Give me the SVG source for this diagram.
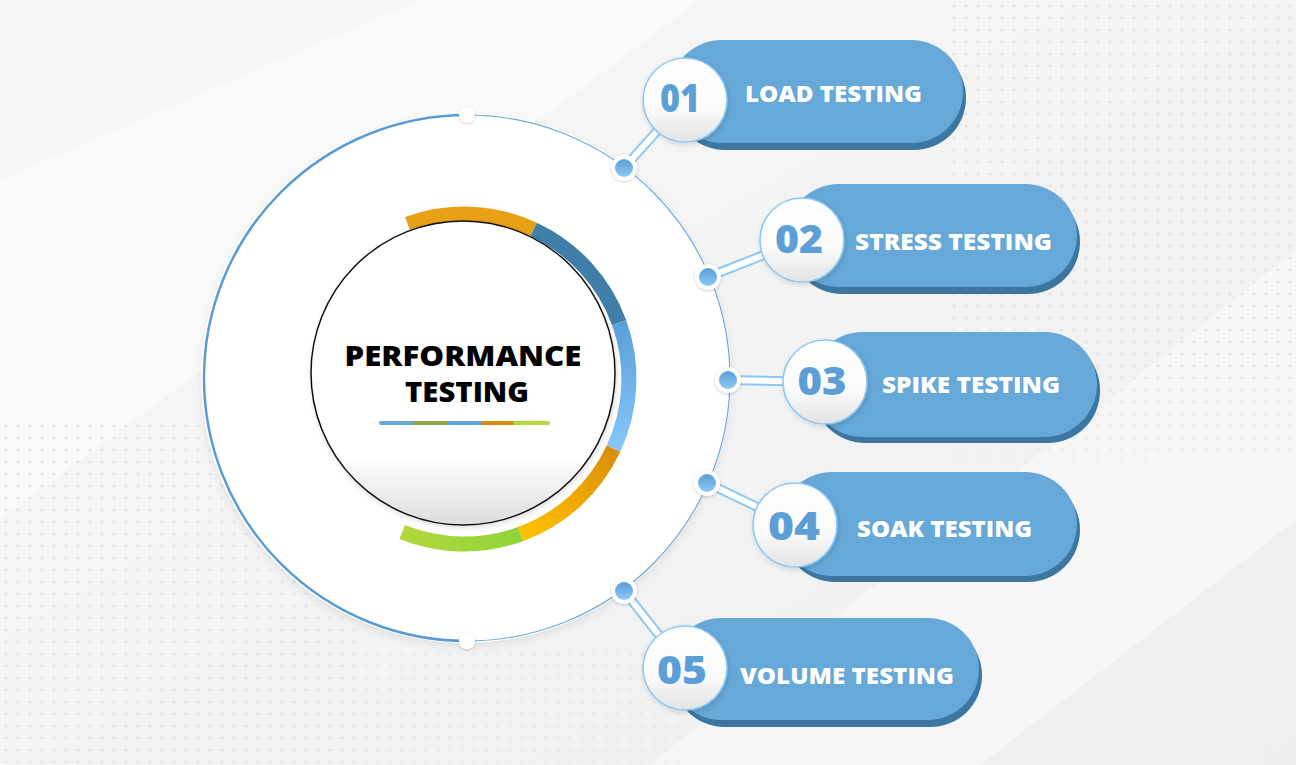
<svg xmlns="http://www.w3.org/2000/svg" width="1296" height="765" viewBox="0 0 1296 765">
<defs>
<style>
.pill{fill:#66A8D7}
.pillsh{fill:#3B77A1}
.num{font-family:"Open Sans","Noto Sans",sans-serif;font-weight:800;font-size:38px;fill:#5B9FD6;text-anchor:middle}
.lbl{font-family:"Open Sans","Noto Sans",sans-serif;font-weight:800;font-size:23px;fill:#FFFFFF}
.title{font-family:"Open Sans","Noto Sans",sans-serif;font-weight:800;font-size:28px;fill:#000000;text-anchor:middle}
.ncirc{fill:url(#gNum);stroke:#8CC8F5;stroke-width:1.6}
.cout{stroke:#8CC8F5;stroke-width:10;stroke-linecap:round;fill:none}
.cin{stroke:#FFFFFF;stroke-width:6;stroke-linecap:round;fill:none}
.halo{fill:#FFFFFF}
.dot{fill:url(#gDot)}
.ring{fill:none;stroke-width:15}
</style>
<linearGradient id="gNum" x1="0" y1="0" x2="0" y2="1">
<stop offset="0" stop-color="#FFFFFF"/><stop offset="0.6" stop-color="#FAFAFA"/><stop offset="1" stop-color="#E2E2E2"/>
</linearGradient>
<linearGradient id="gDot" x1="0" y1="0" x2="0" y2="1">
<stop offset="0" stop-color="#5A9DD6"/><stop offset="1" stop-color="#8CC9F7"/>
</linearGradient>
<linearGradient id="gInner" x1="0" y1="0" x2="0" y2="1">
<stop offset="0" stop-color="#FFFFFF"/><stop offset="0.78" stop-color="#FFFFFF"/><stop offset="1" stop-color="#DCDCDC"/>
</linearGradient>
<linearGradient id="gLB" gradientUnits="userSpaceOnUse" x1="0" y1="322" x2="0" y2="449">
<stop offset="0" stop-color="#5B9FD8"/><stop offset="1" stop-color="#86C7F9"/>
</linearGradient>
<linearGradient id="gOr" gradientUnits="userSpaceOnUse" x1="615" y1="450" x2="520" y2="535">
<stop offset="0" stop-color="#D98E0C"/><stop offset="0.5" stop-color="#F0A800"/><stop offset="1" stop-color="#FFC200"/>
</linearGradient>
<linearGradient id="gGr" gradientUnits="userSpaceOnUse" x1="402" y1="0" x2="522" y2="0">
<stop offset="0" stop-color="#B2D83C"/><stop offset="1" stop-color="#8FD43A"/>
</linearGradient>
<linearGradient id="gBg1" x1="0" y1="0" x2="1" y2="1">
<stop offset="0" stop-color="#F7F7F7"/><stop offset="1" stop-color="#EFEFEF"/>
</linearGradient>
<linearGradient id="gFadeR" x1="0" y1="0" x2="0" y2="1">
<stop offset="0" stop-color="#FFFFFF" stop-opacity="1"/><stop offset="0.7" stop-color="#FFFFFF" stop-opacity="1"/><stop offset="1" stop-color="#FFFFFF" stop-opacity="0"/>
</linearGradient>
<mask id="mFadeR"><rect x="950" y="0" width="346" height="520" fill="url(#gFadeR)"/></mask>
<pattern id="pDots" width="12" height="12" patternUnits="userSpaceOnUse">
<circle cx="6" cy="6" r="1.3" fill="#E0E0E0"/>
</pattern>
<filter id="fSh" x="-20%" y="-20%" width="140%" height="140%">
<feDropShadow dx="0" dy="3" stdDeviation="5" flood-color="#000000" flood-opacity="0.12"/>
</filter>
<filter id="fSh2" x="-30%" y="-30%" width="160%" height="160%">
<feDropShadow dx="1" dy="2" stdDeviation="2.5" flood-color="#000000" flood-opacity="0.14"/>
</filter>
<filter id="fSh3" x="-50%" y="-50%" width="200%" height="200%">
<feDropShadow dx="0" dy="1" stdDeviation="1.5" flood-color="#000000" flood-opacity="0.2"/>
</filter>
</defs>

<g id="background">
<rect width="1296" height="765" fill="url(#gBg1)"/>
<polygon points="0,180 420,0 700,0 0,520" fill="#FAFAFA" opacity="0.8"/>
<polygon points="650,765 1296,250 1296,520 980,765" fill="#F8F8F8" opacity="0.8"/>
<rect x="950" y="0" width="346" height="520" fill="url(#pDots)" mask="url(#mFadeR)"/>
<rect x="0" y="420" width="360" height="345" fill="url(#pDots)"/>
<rect x="360" y="650" width="320" height="115" fill="url(#pDots)" opacity="0.6"/>
</g>

<g id="main-circle">
<circle cx="466" cy="378" r="263" fill="#FFFFFF" filter="url(#fSh)"/>
<circle cx="466" cy="378" r="263" fill="none" stroke="#FFFFFF" stroke-width="4"/>
<path d="M467,115 A263,263 0 0,1 467,641" fill="none" stroke="#6EA9DC" stroke-width="1.2"/>
<path d="M467,115 A263,263 0 0,0 467,641" fill="none" stroke="#5B9BD5" stroke-width="2.5"/>
<circle cx="467" cy="115" r="8" fill="#FFFFFF" filter="url(#fSh3)"/>
<circle cx="467" cy="641" r="8" fill="#FFFFFF" filter="url(#fSh3)"/>
</g>

<g id="center">
<path class="ring" stroke="#E8A116" d="M407.6,224 A165,165 0 0,1 533.7,229.5"/>
<path class="ring" stroke="#3E7EA8" d="M533.7,229.5 A165,165 0 0,1 619.1,322.6"/>
<path class="ring" stroke="url(#gLB)" d="M619.1,322.6 A165,165 0 0,1 613.5,448.7"/>
<path class="ring" stroke="url(#gOr)" d="M613.5,448.7 A165,165 0 0,1 520.4,534.1"/>
<path class="ring" stroke="url(#gGr)" d="M520.4,534.1 A165,165 0 0,1 402.2,532"/>
<circle cx="463" cy="373" r="152" fill="url(#gInner)" stroke="#111111" stroke-width="1.5" filter="url(#fSh2)"/>
<text class="title" x="463" y="366" textLength="237" lengthAdjust="spacingAndGlyphs">PERFORMANCE</text>
<text class="title" x="467" y="402" textLength="124" lengthAdjust="spacingAndGlyphs">TESTING</text>
<g stroke-width="4">
<line x1="381" y1="423" x2="413" y2="423" stroke="#6AA9DC" stroke-linecap="round"/>
<line x1="413" y1="423" x2="447" y2="423" stroke="#88A844"/>
<line x1="447" y1="423" x2="481" y2="423" stroke="#5EA3DA"/>
<line x1="481" y1="423" x2="515" y2="423" stroke="#D98A0A"/>
<line x1="515" y1="423" x2="548" y2="423" stroke="#B5D840" stroke-linecap="round"/>
</g>
</g>

<g id="connectors">
<line class="cout" x1="624" y1="168" x2="685" y2="100"/>
<line class="cin" x1="624" y1="168" x2="685" y2="100"/>
<line class="cout" x1="708" y1="277" x2="802" y2="240"/>
<line class="cin" x1="708" y1="277" x2="802" y2="240"/>
<line class="cout" x1="728" y1="380" x2="825" y2="382"/>
<line class="cin" x1="728" y1="380" x2="825" y2="382"/>
<line class="cout" x1="707" y1="483" x2="795" y2="525"/>
<line class="cin" x1="707" y1="483" x2="795" y2="525"/>
<line class="cout" x1="624" y1="591" x2="685" y2="668"/>
<line class="cin" x1="624" y1="591" x2="685" y2="668"/>
<circle class="halo" cx="624" cy="168" r="13" filter="url(#fSh3)"/><circle class="dot" cx="624" cy="168" r="9"/>
<circle class="halo" cx="708" cy="277" r="13" filter="url(#fSh3)"/><circle class="dot" cx="708" cy="277" r="9"/>
<circle class="halo" cx="728" cy="380" r="13" filter="url(#fSh3)"/><circle class="dot" cx="728" cy="380" r="9"/>
<circle class="halo" cx="707" cy="483" r="13" filter="url(#fSh3)"/><circle class="dot" cx="707" cy="483" r="9"/>
<circle class="halo" cx="624" cy="591" r="13" filter="url(#fSh3)"/><circle class="dot" cx="624" cy="591" r="9"/>
</g>

<g id="node-01">
<rect class="pillsh" x="673" y="46" width="293" height="104" rx="52"/>
<rect class="pill" x="670" y="40" width="293" height="103" rx="51.5"/>
<circle class="ncirc" cx="685" cy="100" r="42" filter="url(#fSh2)"/>
<text class="num" x="680" y="112" textLength="40" lengthAdjust="spacingAndGlyphs">01</text>
<text class="lbl" x="745" y="102" textLength="177" lengthAdjust="spacingAndGlyphs">LOAD TESTING</text>
</g>

<g id="node-02">
<rect class="pillsh" x="790" y="190" width="290" height="104" rx="52"/>
<rect class="pill" x="787" y="184" width="290" height="103" rx="51.5"/>
<circle class="ncirc" cx="802" cy="240" r="42" filter="url(#fSh2)"/>
<text class="num" x="799" y="253" textLength="48" lengthAdjust="spacingAndGlyphs">02</text>
<text class="lbl" x="855" y="250" textLength="197" lengthAdjust="spacingAndGlyphs">STRESS TESTING</text>
</g>

<g id="node-03">
<rect class="pillsh" x="813" y="338" width="287" height="105" rx="52"/>
<rect class="pill" x="810" y="332" width="287" height="105" rx="52.5"/>
<circle class="ncirc" cx="825" cy="382" r="42" filter="url(#fSh2)"/>
<text class="num" x="822" y="395" textLength="49" lengthAdjust="spacingAndGlyphs">03</text>
<text class="lbl" x="882" y="393" textLength="178" lengthAdjust="spacingAndGlyphs">SPIKE TESTING</text>
</g>

<g id="node-04">
<rect class="pillsh" x="783" y="478" width="297" height="104" rx="52"/>
<rect class="pill" x="780" y="472" width="297" height="104" rx="52"/>
<circle class="ncirc" cx="795" cy="525" r="42" filter="url(#fSh2)"/>
<text class="num" x="794" y="540" textLength="52" lengthAdjust="spacingAndGlyphs">04</text>
<text class="lbl" x="857" y="537" textLength="175" lengthAdjust="spacingAndGlyphs">SOAK TESTING</text>
</g>

<g id="node-05">
<rect class="pillsh" x="673" y="624" width="309" height="103" rx="51.5"/>
<rect class="pill" x="670" y="618" width="309" height="102" rx="51"/>
<circle class="ncirc" cx="685" cy="668" r="42" filter="url(#fSh2)"/>
<text class="num" x="682" y="684" textLength="50" lengthAdjust="spacingAndGlyphs">05</text>
<text class="lbl" x="740" y="684" textLength="214" lengthAdjust="spacingAndGlyphs">VOLUME TESTING</text>
</g>
</svg>
